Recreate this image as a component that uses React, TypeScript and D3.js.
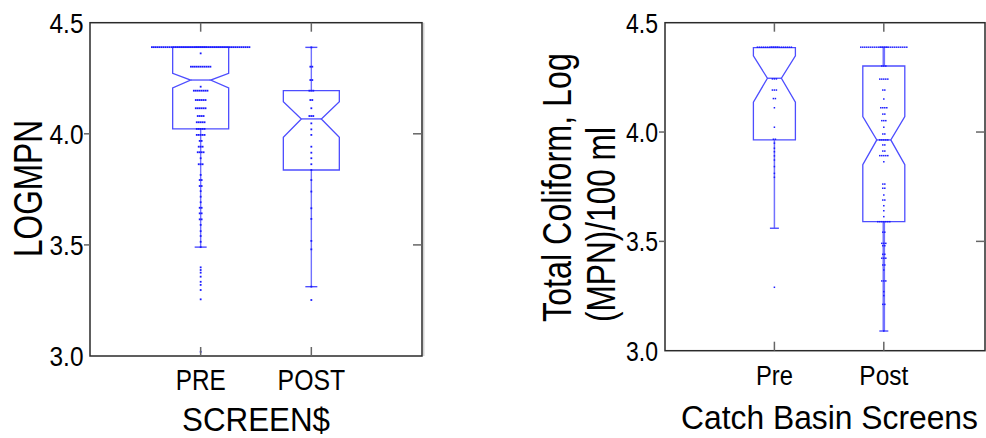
import React from "react";
import * as d3 from "d3";

// ---------- data ----------
const leftCategories = ["PRE", "POST"];
const rightCategories = ["Pre", "Post"];
const yTicks = [3.0, 3.5, 4.0, 4.5];

// [whiskerLow, q1, notchLow, median, notchHigh, q3, whiskerHigh]
const leftPreStats = [3.49, 4.022, 4.207, 4.242, 4.272, 4.39, 4.39];
const leftPostStats = [3.312, 3.837, 3.984, 4.067, 4.144, 4.194, 4.389];
const rightPreStats = [3.56, 3.964, 4.136, 4.246, 4.348, 4.386, 4.388];
const rightPostStats = [3.09, 3.59, 3.851, 3.964, 4.071, 4.302, 4.388];

// [value, count]
const leftPreDots: [number, number][] = [
  [4.39, 51], [4.362, 1], [4.302, 11], [4.212, 1], [4.194, 8], [4.152, 6], [4.115, 6],
  [4.08, 4], [4.052, 5], [4.022, 5], [3.995, 5], [3.968, 2], [3.942, 3], [3.917, 4],
  [3.89, 1], [3.863, 3], [3.815, 1], [3.792, 2], [3.765, 2], [3.742, 1], [3.717, 1],
  [3.692, 1], [3.667, 2], [3.642, 2], [3.615, 2], [3.59, 1], [3.562, 1], [3.54, 1],
  [3.514, 1], [3.49, 1], [3.399, 1], [3.387, 1], [3.375, 1], [3.357, 1], [3.334, 1],
  [3.32, 1], [3.297, 1], [3.255, 1], [3.019, 1],
];
const leftPostDots: [number, number][] = [
  [4.389, 1], [4.302, 2], [4.242, 2], [4.194, 3], [4.152, 2], [4.115, 1], [4.08, 3],
  [4.047, 1], [4.02, 1], [3.995, 1], [3.942, 1], [3.915, 1], [3.89, 1], [3.863, 1],
  [3.837, 1], [3.792, 1], [3.74, 1], [3.665, 1], [3.617, 1], [3.518, 1], [3.48, 1],
  [3.312, 1], [3.252, 1],
];
const rightPreDots: [number, number][] = [
  [4.388, 18], [4.243, 3], [4.192, 3], [4.153, 2], [4.111, 1], [4.022, 1], [3.967, 2],
  [3.949, 1], [3.926, 1], [3.91, 1], [3.891, 1], [3.872, 1], [3.842, 1], [3.811, 1],
  [3.793, 1], [3.29, 1],
];
const rightPostDots: [number, number][] = [
  [4.388, 24], [4.302, 3], [4.242, 5], [4.192, 2], [4.151, 1], [4.111, 4], [4.082, 2],
  [4.052, 3], [4.022, 1], [3.991, 2], [3.964, 5], [3.941, 2], [3.913, 2], [3.892, 5],
  [3.864, 1], [3.762, 2], [3.743, 2], [3.712, 1], [3.689, 2], [3.663, 1], [3.64, 1],
  [3.613, 1], [3.59, 7], [3.542, 2], [3.491, 3], [3.48, 2], [3.441, 2], [3.423, 3],
  [3.392, 2], [3.369, 1], [3.319, 3], [3.27, 1], [3.252, 1], [3.212, 2], [3.09, 1],
];

// ---------- styling ----------
const FONT = "'Liberation Sans', Arial, sans-serif";
const BOX = "#4d4dff";
const DOT = "#1a1aff";

let ctx: CanvasRenderingContext2D | null = null;
function measure(text: string, size: number): number {
  if (!ctx) ctx = document.createElement("canvas").getContext("2d");
  if (!ctx) return text.length * size * 0.55;
  ctx.font = `${size}px 'Liberation Sans', Arial, sans-serif`;
  return ctx.measureText(text).width;
}

// text horizontally compressed to a target length (condensed look)
function CText(props: {
  x: number; y: number; text: string; size: number; len: number;
  anchor?: "start" | "middle" | "end"; rotate?: number;
}) {
  const { x, y, text, size, len, anchor = "start", rotate = 0 } = props;
  const sx = len / measure(text, size);
  return (
    <g transform={`translate(${x},${y}) rotate(${rotate}) scale(${sx},1)`}>
      <text x={0} y={0} textAnchor={anchor} fontFamily={FONT} fontSize={size} fill="#000">{text}</text>
    </g>
  );
}

type PanelProps = {
  x0: number; x1: number; y0: number; y1: number; xMax: number;
  cats: string[]; stats: number[][]; dots: [number, number][][];
  halfW: number; notchW: number; capW: number; spacing: number; dotSize: number;
  whiskerW: number[];
  tickLabelRight: number; tickFont: number; tickLen: number;
  catFont: number; catBaseline: number; catLens: number[];
  xTitle: string; xTitleFont: number; xTitleBaseline: number; xTitleLen: number; xTitleX: number;
};

function Panel(p: PanelProps) {
  const y = d3.scaleLinear().domain([3.0, 4.5]).range([p.y1, p.y0]);
  const x = d3.scaleLinear().domain([0, p.xMax]).range([p.x0, p.x1]);
  const positions = p.cats.map((_, i) => i + 1);
  const tl = 9;
  const line = d3.line();
  return (
    <g>
      {p.stats.map((s, i) => {
        const [wl, q1, nl, med, nh, q3, wh] = s;
        const cx = x(positions[i]);
        const a = cx - p.halfW, b = cx + p.halfW;
        const pts: [number, number][] = [
          [a, y(q3)], [b, y(q3)], [b, y(nh)], [cx + p.notchW, y(med)], [b, y(nl)],
          [b, y(q1)], [a, y(q1)], [a, y(nl)], [cx - p.notchW, y(med)], [a, y(nh)],
        ];
        return (
          <g key={"b" + i}>
            <line x1={cx} x2={cx} y1={y(q1)} y2={y(wl)} stroke={BOX} strokeWidth={p.whiskerW[i]} strokeOpacity={0.8} />
            <line x1={cx} x2={cx} y1={y(q3)} y2={y(wh)} stroke={BOX} strokeWidth={p.whiskerW[i]} strokeOpacity={0.8} />
            <line x1={cx - p.capW / 2} x2={cx + p.capW / 2} y1={y(wl)} y2={y(wl)} stroke={BOX} strokeWidth={1.4} />
            <line x1={cx - p.capW / 2} x2={cx + p.capW / 2} y1={y(wh)} y2={y(wh)} stroke={BOX} strokeWidth={1.4} />
            <path d={line(pts) + "Z"} fill="none" stroke={BOX} strokeWidth={1.3} />
            <line x1={cx - p.notchW} x2={cx + p.notchW} y1={y(med)} y2={y(med)} stroke={BOX} strokeWidth={1.3} />
            {p.dots[i].map(([v, c], j) =>
              d3.range(c).map((k) => (
                <rect key={j + "-" + k}
                  x={cx + (k - (c - 1) / 2) * p.spacing - p.dotSize / 2}
                  y={y(v) - p.dotSize / 2}
                  width={p.dotSize} height={p.dotSize} fill={DOT} />
              ))
            )}
          </g>
        );
      })}
      <line x1={p.x1 + 1.8} x2={p.x1 + 1.8} y1={p.y0} y2={p.y1} stroke="#c8c8c8" strokeWidth={1.2} />
      <rect x={p.x0} y={p.y0} width={p.x1 - p.x0} height={p.y1 - p.y0} fill="none" stroke="#2a2a2a" strokeWidth={1.5} />
      {positions.map((c, i) => (
        <g key={"ct" + i}>
          <line x1={x(c)} x2={x(c)} y1={p.y0} y2={p.y0 + tl} stroke="#666" strokeWidth={1.5} />
          <line x1={x(c)} x2={x(c)} y1={p.y1} y2={p.y1 - tl} stroke="#666" strokeWidth={1.5} />
          <CText x={x(c)} y={p.catBaseline} text={p.cats[i]} size={p.catFont} len={p.catLens[i]} anchor="middle" />
        </g>
      ))}
      {yTicks.map((t, i) => (
        <g key={"yt" + i}>
          {t > 3.0 && t < 4.5 && (
            <>
              <line x1={p.x0 - 6} x2={p.x0} y1={y(t)} y2={y(t)} stroke="#666" strokeWidth={1.5} />
              <line x1={p.x1 - tl} x2={p.x1} y1={y(t)} y2={y(t)} stroke="#666" strokeWidth={1.5} />
            </>
          )}
          <CText x={p.tickLabelRight} y={y(t) + 10} text={t.toFixed(1)} size={p.tickFont} len={p.tickLen} anchor="end" />
        </g>
      ))}
      <CText x={p.xTitleX} y={p.xTitleBaseline} text={p.xTitle} size={p.xTitleFont} len={p.xTitleLen} anchor="middle" />
    </g>
  );
}

export default function App() {
  return (
    <svg width={986} height={438} style={{ position: "absolute", left: 0, top: 0, background: "#fff" }}>
      <rect x={0} y={0} width={986} height={438} fill="#fff" />
      <Panel
        x0={90} x1={422} y0={22.7} y1={356} xMax={3}
        cats={leftCategories} stats={[leftPreStats, leftPostStats]} dots={[leftPreDots, leftPostDots]}
        halfW={28} notchW={10} capW={12} spacing={1.95} dotSize={1.8} whiskerW={[1.4, 1.4]}
        tickLabelRight={83.5} tickFont={28} tickLen={34}
        catFont={30} catBaseline={389.5} catLens={[50, 67.5]}
        xTitle="SCREEN$" xTitleFont={33} xTitleBaseline={431} xTitleLen={148} xTitleX={256}
      />
      <CText x={41.5} y={188.5} rotate={-90} text="LOGMPN" size={40} len={137} anchor="middle" />

      <Panel
        x0={665} x1={985} y0={22.7} y1={350.7} xMax={2.925}
        cats={rightCategories} stats={[rightPreStats, rightPostStats]} dots={[rightPreDots, rightPostDots]}
        halfW={21} notchW={7} capW={9} spacing={2} dotSize={1.5} whiskerW={[1.5, 2.6]}
        tickLabelRight={658} tickFont={28} tickLen={32}
        catFont={28} catBaseline={384.5} catLens={[37, 49]}
        xTitle="Catch Basin Screens" xTitleFont={34} xTitleBaseline={428.5} xTitleLen={297} xTitleX={829.5}
      />
      <CText x={570.7} y={322} rotate={-90} text="Total Coliform, Log" size={40} len={269} />
      <CText x={615} y={322} rotate={-90} text="(MPN)/100 ml" size={40} len={195} />
    </svg>
  );
}
